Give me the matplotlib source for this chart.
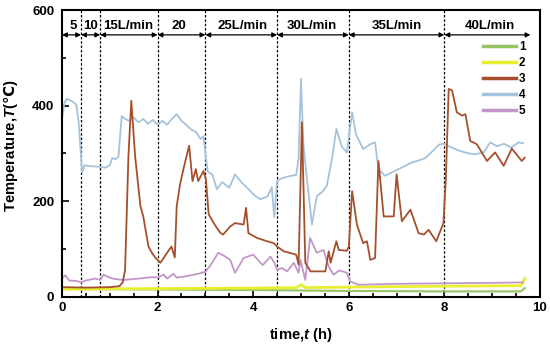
import matplotlib.pyplot as plt
import numpy as np

plt.rcParams['font.family'] = ['Liberation Sans', 'DejaVu Sans']
plt.rcParams['font.weight'] = 'bold'
plt.rcParams['mathtext.fontset'] = 'custom'
plt.rcParams['mathtext.rm'] = 'DejaVu Sans'
plt.rcParams['mathtext.it'] = 'Liberation Sans:italic:bold'
plt.rcParams['mathtext.bf'] = 'Liberation Sans:bold'

# ---------------- data ----------------
t1 = [0, 2, 4, 5, 6, 8, 9.6, 9.68]
T1 = [16, 15, 14, 13, 12, 11, 11, 18]

t2 = [0, 2, 4, 4.9, 5.0, 5.1, 6, 8, 9.6, 9.68]
T2 = [16, 17, 18, 19, 25, 19, 20, 22, 23, 38]

t3 = [0, 0.5, 1.0, 1.2, 1.27, 1.32, 1.39, 1.45, 1.53, 1.64, 1.7, 1.81, 1.88, 1.95, 2.06,
      2.2, 2.29, 2.36, 2.4, 2.47, 2.54, 2.66, 2.73, 2.8, 2.85, 2.96, 3.01, 3.07, 3.2, 3.31,
      3.37, 3.52, 3.62, 3.8, 3.85, 3.9, 4.08, 4.29, 4.43, 4.5, 4.64, 4.9, 4.95, 5.02, 5.09,
      5.2, 5.51, 5.58, 5.62, 5.74, 5.79, 5.96, 6.0, 6.07, 6.17, 6.3, 6.38, 6.45, 6.55, 6.62,
      6.73, 6.94, 7.0, 7.11, 7.29, 7.46, 7.57, 7.67, 7.83, 7.98, 8.03, 8.09, 8.16, 8.26, 8.37,
      8.44, 8.54, 8.68, 8.89, 9.06, 9.24, 9.41, 9.62, 9.68]
T3 = [20, 19, 20, 22, 30, 56, 294, 410, 294, 190, 168, 105, 92, 82, 71,
      92, 105, 82, 190, 235, 267, 316, 242, 267, 242, 263, 246, 172, 150, 134,
      130, 147, 154, 151, 186, 133, 123, 116, 112, 105, 95, 88, 67, 365, 71,
      53, 53, 95, 71, 116, 98, 96, 105, 221, 151, 112, 116, 77, 81, 284,
      168, 168, 256, 158, 182, 133, 130, 140, 116, 154, 246, 435, 432, 386, 379,
      382, 326, 319, 284, 302, 274, 310, 284, 291]

t4 = [0, 0.05, 0.1, 0.2, 0.3, 0.35, 0.42, 0.47, 0.6, 0.8, 0.9, 1.0, 1.05, 1.12, 1.18,
      1.25, 1.32, 1.4, 1.5, 1.6, 1.7, 1.8, 1.9, 2.0, 2.1, 2.2, 2.3, 2.4, 2.5, 2.6,
      2.7, 2.8, 2.9, 2.96, 3.0, 3.05, 3.15, 3.24, 3.35, 3.5, 3.62, 3.75, 3.9, 4.05, 4.15,
      4.3, 4.39, 4.44, 4.5, 4.6, 4.75, 4.9, 4.95, 5.0, 5.05, 5.12, 5.23, 5.33, 5.45, 5.54,
      5.65, 5.74, 5.85, 5.96, 6.02, 6.07, 6.15, 6.3, 6.45, 6.55, 6.62, 6.76, 7.0, 7.3, 7.6,
      7.9, 8.0, 8.15, 8.33, 8.5, 8.65, 8.82, 8.96, 9.1, 9.25, 9.4, 9.55, 9.65]
T4 = [372, 405, 414, 410, 402, 365, 260, 275, 273, 272, 270, 275, 290, 288, 292,
      378, 372, 368, 375, 365, 372, 362, 370, 360, 368, 360, 372, 382, 368, 360,
      350, 345, 330, 336, 300, 262, 255, 225, 240, 228, 256, 240, 225, 210, 204,
      210, 229, 166, 242, 248, 252, 255, 290, 456, 320, 250, 151, 210, 220, 232,
      290, 351, 315, 302, 350, 386, 340, 309, 319, 323, 267, 253, 265, 280, 290,
      319, 320, 312, 305, 300, 298, 302, 323, 315, 320, 312, 323, 321]

t5 = [0, 0.07, 0.15, 0.3, 0.4, 0.5, 0.6, 0.7, 0.8, 0.87, 0.95, 1.05, 1.2, 1.3, 1.5,
      1.7, 1.9, 2.0, 2.13, 2.2, 2.33, 2.4, 2.55, 2.7, 2.85, 3.0, 3.1, 3.27, 3.4, 3.52,
      3.62, 3.8, 4.0, 4.2, 4.36, 4.45, 4.5, 4.6, 4.71, 4.85, 4.95, 4.99, 5.09, 5.19, 5.33,
      5.47, 5.58, 5.68, 5.8, 5.96, 6.03, 6.2, 7.0, 8.0, 9.0, 9.65]
T5 = [38, 45, 34, 33, 30, 34, 36, 38, 35, 46, 42, 38, 36, 35, 37,
      39, 41, 40, 46, 38, 48, 40, 42, 45, 48, 52, 65, 92, 85, 77,
      50, 81, 88, 66, 84, 70, 56, 60, 53, 71, 50, 77, 35, 123, 92,
      98, 63, 46, 55, 50, 32, 25, 27, 28, 29, 30]

# flow-rate stages
stage_edges = [0, 0.4, 0.8, 2, 3, 4.5, 6, 8, 9.8]
stage_labels = ['5', '10', '15L/min', '20', '25L/min', '30L/min', '35L/min', '40L/min']
stage_text_x = [0.23, 0.59, 1.39, 2.44, 3.77, 5.23, 7.0, 8.96]

colors = ['#96c364', '#e8ef2e', '#a5502d', '#a5c3dc', '#c396c8']

fig = plt.figure(figsize=(5.5, 3.46), dpi=100)
ax = fig.add_axes([0.1127, 0.1425, 0.8691, 0.8285])

ax.plot(t1, T1, color=colors[0], lw=1.5)
ax.plot(t2, T2, color=colors[1], lw=2.0)
ax.plot(t5, T5, color=colors[4], lw=1.3)
ax.plot(t4, T4, color=colors[3], lw=1.3)
ax.plot(t3, T3, color=colors[2], lw=1.3)

# stage dividers
for xe in stage_edges[1:-1]:
    ax.axvline(xe, color='k', ls=(0, (2, 1.5)), lw=0.9, zorder=1)

# double arrows + labels
for i in range(len(stage_labels)):
    ax.annotate('', xy=(stage_edges[i], 548), xytext=(stage_edges[i + 1], 548),
                arrowprops=dict(arrowstyle='<|-|>', color='k', lw=0.9,
                                mutation_scale=7, shrinkA=0, shrinkB=0))
    ax.text(stage_text_x[i], 566, stage_labels[i], ha='center', va='center',
            fontsize=9.5, fontweight='bold')

ax.set_xlim(0, 10)
ax.set_ylim(0, 600)
ax.set_xticks([0, 2, 4, 6, 8, 10])
ax.set_xticks(np.arange(0, 10.01, 0.5), minor=True)
ax.set_yticks([0, 200, 400, 600])
ax.set_yticks([100, 300, 500], minor=True)
ax.tick_params(which='both', direction='in', labelsize=9.5, width=1.2)
ax.tick_params(which='major', length=5)
ax.tick_params(which='minor', length=3)
ax.tick_params(axis='x', pad=4)
ax.tick_params(axis='y', pad=5.5)
for lab in ax.get_xticklabels() + ax.get_yticklabels():
    lab.set_fontweight('bold')
for sp in ax.spines.values():
    sp.set_linewidth(1.5)

ax.set_xlabel('time,$\\mathit{t}$ (h)', fontsize=10.7, fontweight='bold')
ax.set_ylabel('Temperature,$\\mathit{T}$($\\mathrm{\u2103}$)', fontsize=10.7, fontweight='bold')
ax.xaxis.set_label_coords(0.5, -0.102)
ax.yaxis.set_label_coords(-0.087, 0.525)

# legend in order 1..5
handles = [plt.Line2D([], [], color=c, lw=2.5) for c in colors]
ax.legend(handles, ['1', '2', '3', '4', '5'], loc='upper right',
          bbox_to_anchor=(0.985, 0.915), frameon=False,
          handlelength=2.8, handletextpad=0.3, labelspacing=0.33,
          borderpad=0.1, prop={'weight': 'bold', 'size': 8.5})

fig.savefig('out.png', dpi=100)
